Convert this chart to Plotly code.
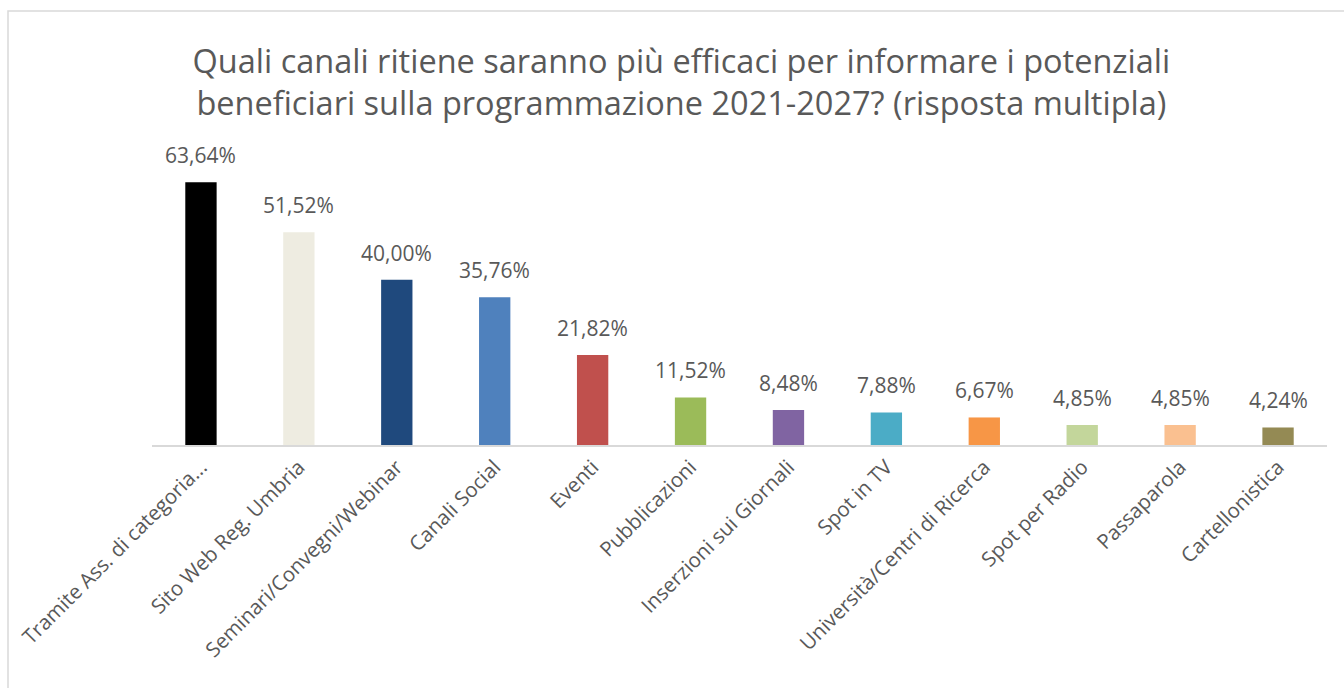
import plotly.graph_objects as go

categories = [
    "Tramite Ass. di categoria...",
    "Sito Web Reg. Umbria",
    "Seminari/Convegni/Webinar",
    "Canali Social",
    "Eventi",
    "Pubblicazioni",
    "Inserzioni sui Giornali",
    "Spot in TV",
    "Università/Centri di Ricerca",
    "Spot per Radio",
    "Passaparola",
    "Cartellonistica",
]
values = [63.64, 51.52, 40.00, 35.76, 21.82, 11.52, 8.48, 7.88, 6.67, 4.85, 4.85, 4.24]
colors = [
    "#000000", "#EEECE1", "#1F497D", "#4F81BD", "#C0504D", "#9BBB59",
    "#8064A2", "#4BACC6", "#F79646", "#C3D69B", "#FAC090", "#948A54",
]

title_text = ("Quali canali ritiene saranno più efficaci per informare i potenziali<br>"
              "beneficiari sulla programmazione 2021-2027? (risposta multipla)")

FONT = "Open Sans"
GREY = "#595959"

W, H = 1344, 688
L, R, T, B = 152, 17, 156, 243
pw, ph = W - L - R, H - T - B

fig = go.Figure(go.Bar(
    x=categories,
    y=values,
    marker=dict(color=colors, line=dict(width=0)),
    hoverinfo="skip",
))

# value labels above each bar
for c, v in zip(categories, values):
    fig.add_annotation(
        x=c, y=v, text=f"{v:.2f}".replace(".", ",") + "%",
        showarrow=False, yanchor="bottom", yshift=11,
        font=dict(family=FONT, size=21, color=GREY),
    )

# outer chart border
def px_x(p):
    return (p - L) / pw

def px_y(p):
    return (H - B - p) / ph

fig.add_shape(
    type="rect", xref="paper", yref="paper",
    x0=px_x(8), x1=px_x(1352), y0=px_y(11), y1=px_y(696),
    line=dict(color="#D9D9D9", width=1.5), fillcolor="rgba(0,0,0,0)",
    layer="below",
)

fig.update_layout(
    width=W, height=H,
    margin=dict(l=L, r=R, t=T, b=B, autoexpand=False),
    paper_bgcolor="white", plot_bgcolor="white",
    bargap=0.68,
    showlegend=False,
    title=dict(
        text=title_text,
        font=dict(family=FONT, size=32.5, color=GREY),
        x=0.507, xref="container", xanchor="center",
        y=1 - 73 / H, yref="container", yanchor="middle",
    ),
    xaxis=dict(
        showline=True, linecolor="#D9D9D9", linewidth=2,
        showgrid=False, zeroline=False, ticks="",
        tickangle=-45,
        tickfont=dict(family=FONT, size=20.5, color=GREY),
        range=[-0.5, len(categories) - 0.5],
    ),
    yaxis=dict(
        range=[0, 70], visible=False, showgrid=False, zeroline=False,
    ),
)

fig.write_html("out.html", config={"displayModeBar": False})
